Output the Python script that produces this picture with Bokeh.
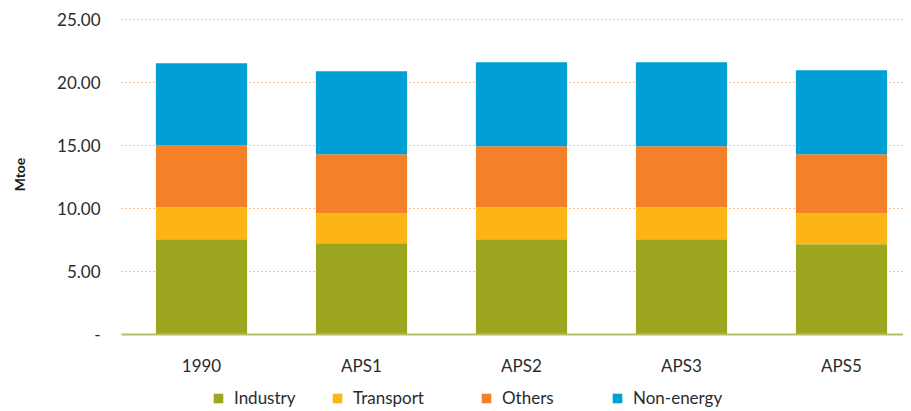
from bokeh.plotting import figure
from bokeh.models import Range1d, FixedTicker, Legend, LegendItem, ColumnDataSource, NumeralTickFormatter
from bokeh.layouts import column
from bokeh.embed import file_html
from bokeh.resources import INLINE

categories = ["1990", "APS1", "APS2", "APS3", "APS5"]
series = ["Industry", "Transport", "Others", "Non-energy"]
industry = [7.56, 7.25, 7.56, 7.56, 7.17]
transport = [2.54, 2.38, 2.54, 2.54, 2.46]
others = [4.92, 4.68, 4.84, 4.84, 4.68]
non_energy = [6.51, 6.59, 6.67, 6.67, 6.67]
y_ticks = [0, 5, 10, 15, 20, 25]
colors = ["#9ca61e", "#fdb415", "#f48029", "#00a0d6"]

font = "Lato"
FS = "17px"
W = 898
LEFT = 116

xs = list(range(len(categories)))
src = ColumnDataSource(dict(x=xs, Industry=industry, Transport=transport,
                            Others=others, **{"Non-energy": non_energy}))

p = figure(width=W, height=378, output_backend="svg", toolbar_location=None,
           x_range=Range1d(-0.5, -0.5 + (W - LEFT) / 160), y_range=Range1d(0, 25.4),
           min_border_left=LEFT, min_border_right=0, min_border_top=14, min_border_bottom=30)
p.outline_line_color = None

p.vbar_stack(series, x="x", width=0.57, source=src, color=colors, line_color=None)

# Y axis
p.yaxis.ticker = FixedTicker(ticks=y_ticks)
p.yaxis.formatter = NumeralTickFormatter(format="0.00")
p.yaxis.major_label_overrides = {0: "-"}
p.yaxis.axis_line_color = None
p.yaxis.major_tick_line_color = None
p.yaxis.minor_tick_line_color = None
p.yaxis.major_tick_out = 0
p.yaxis.major_tick_in = 0
p.yaxis.major_label_standoff = 21
p.yaxis.major_label_text_font = font
p.yaxis.major_label_text_font_size = FS
p.yaxis.major_label_text_color = "#2b2b2b"
p.yaxis.axis_label = "Mtoe"
p.yaxis.axis_label_text_font = font
p.yaxis.axis_label_text_font_style = "bold"
p.yaxis.axis_label_text_font_size = "14px"
p.yaxis.axis_label_text_color = "#1a1a1a"
p.yaxis.axis_label_standoff = 26

# X axis
p.xaxis.ticker = FixedTicker(ticks=xs)
p.xaxis.major_label_overrides = {i: c for i, c in enumerate(categories)}
p.xaxis.axis_line_color = "#b8bd62"
p.xaxis.axis_line_width = 2
p.xaxis.major_tick_line_color = None
p.xaxis.minor_tick_line_color = None
p.xaxis.major_label_standoff = 14
p.xaxis.major_label_text_font = font
p.xaxis.major_label_text_font_size = FS
p.xaxis.major_label_text_color = "#2b2b2b"

p.xgrid.grid_line_color = None
p.ygrid.ticker = FixedTicker(ticks=y_ticks[1:])
p.ygrid.grid_line_color = "#f4812c"
p.ygrid.grid_line_dash = "1 3"
p.ygrid.grid_line_width = 1.2

# Legend strip (separate figure so nothing is clipped); its bars are hidden
lg = figure(width=W, height=30, output_backend="svg", toolbar_location=None,
            x_range=p.x_range, y_range=Range1d(0, 1),
            min_border_left=LEFT, min_border_right=0, min_border_top=0, min_border_bottom=0)
lg.outline_line_color = None
lg.axis.visible = False
lg.grid.visible = False
lg_renderers = lg.vbar_stack(series, x="x", width=0.57, source=src, color=colors, line_color=None)
for r in lg_renderers:
    r.visible = False
legend_x = [91, 210, 359, 490]
for name, r, lx in zip(series, lg_renderers, legend_x):
    leg = Legend(items=[LegendItem(label=name, renderers=[r])], location=(lx, 0),
                 orientation="horizontal", glyph_width=12, glyph_height=12, label_standoff=10,
                 label_text_font=font, label_text_font_size=FS, label_text_color="#2b2b2b",
                 inactive_fill_alpha=0, click_policy="none",
                 border_line_color=None, background_fill_alpha=0, margin=0, padding=0)
    lg.add_layout(leg, "center")

layout = column(p, lg, spacing=0, margin=(0, 0, 0, 5))
open("out.html", "w").write(file_html(layout, INLINE))
